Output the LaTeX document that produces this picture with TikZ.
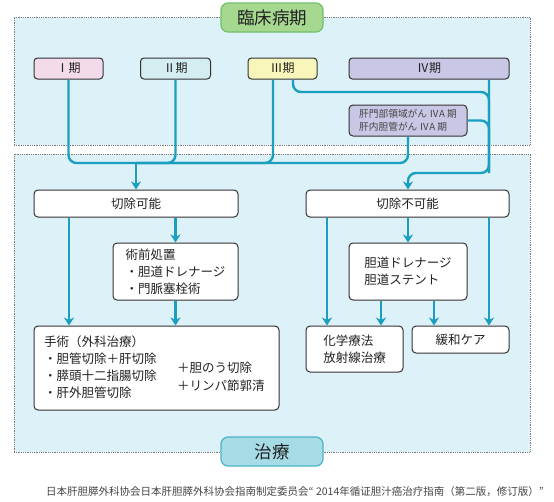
\documentclass[tikz,border=0pt]{standalone}
\usepackage{fontspec}
\setmainfont{Noto Sans CJK JP}
\usetikzlibrary{arrows.meta}
\definecolor{conn}{HTML}{1B9FC0}
\definecolor{panelfill}{HTML}{DDF1F8}
\definecolor{panelline}{HTML}{7A7A7A}
\definecolor{greenfill}{HTML}{A6D98F}
\definecolor{greenline}{HTML}{6FBE6A}
\definecolor{tealfill}{HTML}{A5DCE6}
\definecolor{tealline}{HTML}{4DB3C6}
\definecolor{pinkfill}{HTML}{F4DBE9}
\definecolor{cyanfill}{HTML}{D4EDF1}
\definecolor{yellowfill}{HTML}{F8F6BB}
\definecolor{lavfill}{HTML}{C9C7E6}
\definecolor{boxline}{HTML}{333333}
\definecolor{txt}{HTML}{222222}
\definecolor{foot}{HTML}{444444}
\tikzset{
  panel/.style={draw=panelline, densely dotted, line width=0.8pt, fill=panelfill, inner sep=0pt},
  headbox/.style={rounded corners=7pt, line width=1.2pt, inner sep=0pt,
    minimum width=102pt, minimum height=29pt, font=\fontsize{17.5}{20}\selectfont, text=txt},
  stagebox/.style={draw=boxline, line width=1pt, rounded corners=3.5pt, inner sep=0pt,
    minimum height=21pt, font=\fontsize{12}{14}\selectfont, text=txt},
  wbox/.style={draw=boxline, line width=1pt, rounded corners=4pt, fill=white, inner sep=0pt,
    font=\fontsize{12.5}{17}\selectfont, text=txt, align=left},
  plain/.style={inner sep=0pt, font=\fontsize{12.5}{17}\selectfont, text=txt, align=left},
  conn/.style={draw=conn, line width=2.4pt, rounded corners=8pt},
  arr/.style={draw=conn, line width=2.2pt, -{Stealth[width=10pt,length=8pt,inset=2.5pt]}},
}
\begin{document}
\begin{tikzpicture}[x=1pt,y=-1pt]
\useasboundingbox (0,0) rectangle (554,501);
% panels
\node (toppanel) [panel, minimum width=516pt, minimum height=128pt] at (272,81) {};
\node (botpanel) [panel, minimum width=516pt, minimum height=298pt] at (272,303) {};
\node (head1) [headbox, draw=greenline, fill=greenfill] at (272,17.5) {臨床病期};
\node (head2) [headbox, draw=tealline, fill=tealfill] at (272,451.5) {治療};
% stage boxes
\node (s1) [stagebox, fill=pinkfill, minimum width=69pt] at (68.5,68.5) {Ⅰ期};
\node (s2) [stagebox, fill=cyanfill, minimum width=70pt] at (175.5,68.5) {Ⅱ期};
\node (s3) [stagebox, fill=yellowfill, minimum width=69pt] at (282.5,68.5) {Ⅲ期};
\node (s4) [stagebox, fill=lavfill, minimum width=160pt] at (429,68.5) {Ⅳ期};
\node (sub) [wbox, fill=lavfill, minimum width=118pt, minimum height=31pt,
  font=\fontsize{9.7}{12.4}\selectfont, text=foot] at (408,120.5)
  {肝門部領域がん ⅣA 期\\肝内胆管がん ⅣA 期};
% treatment boxes
\node (res) [wbox, minimum width=204pt, minimum height=27pt] at (136,203.5) {切除可能};
\node (unres) [wbox, minimum width=203pt, minimum height=27pt] at (407.5,203.5) {切除不可能};
\node (prep) [wbox, minimum width=125pt, minimum height=57pt] at (175.5,271.5)
  {術前処置\\・胆道ドレナージ\\・門脈塞栓術};
\node (drain) [wbox, minimum width=118pt, minimum height=57pt] at (408,271.5)
  {胆道ドレナージ\\胆道ステント};
\node (surg) [wbox, minimum width=245pt, minimum height=84pt] at (156.5,368) {};
\node (surgL) [plain, anchor=west] at (44,367.5)
  {手術（外科治療）\\・胆管切除＋肝切除\\・膵頭十二指腸切除\\・肝外胆管切除};
\node (surgR) [plain, anchor=west, font=\fontsize{12.5}{18}\selectfont] at (177,377)
  {＋胆のう切除\\＋リンパ節郭清};
\node (chem) [wbox, minimum width=97pt, minimum height=46pt] at (354.5,349) {化学療法\\放射線治療};
\node (pall) [wbox, minimum width=97pt, minimum height=27pt] at (460.5,339.5) {緩和ケア};
% footer
\node (footer) [inner sep=0pt, anchor=west, font=\fontsize{10.5}{12}\selectfont, text=foot] at (46,492)
  {日本肝胆膵外科协会日本肝胆膵外科协会指南制定委员会“ 2014年循证胆汁癌治疗指南（第二版，修订版）”};
% junctions
\coordinate (j1) at (136,163);
\coordinate (v4) at (489,173);
\coordinate (v4top) at (489,92);
% connectors into resectable
\draw[conn] (s1.south) |- (j1);
\draw[conn] (s2.south) |- (j1);
\draw[conn] ([xshift=-9.5pt]s3.south) |- (j1);
\draw[conn] (sub.south) |- (j1);
\draw[arr] (j1) -- (res.north);
% connectors into unresectable
\draw[conn] ([xshift=10.5pt]s3.south) |- (v4top) -- (v4);
\draw[conn] (sub.east) -| (v4);
\draw[conn, -{Stealth[width=10pt,length=8pt,inset=2.5pt]}] ([xshift=60pt]s4.south) |- (drain.north |- v4) -- (unres.north -| drain.north);
% from resectable
\draw[arr] ([xshift=-67pt]res.south) -- ([xshift=-67pt]res.south |- surg.north);
\draw[arr] (res.south -| prep.north) -- (prep.north);
\draw[arr] (prep.south) -- (prep.south |- surg.north);
% from unresectable
\draw[arr] ([xshift=-80.5pt]unres.south) -- ([xshift=-80.5pt]unres.south |- chem.north);
\draw[arr] (unres.south -| drain.north) -- (drain.north);
\draw[arr] ([xshift=81.5pt]unres.south) -- ([xshift=81.5pt]unres.south |- pall.north);
\draw[arr] ([xshift=-27pt]drain.south) -- ([xshift=-27pt]drain.south |- chem.north);
\draw[arr] ([xshift=26pt]drain.south) -- ([xshift=26pt]drain.south |- pall.north);
\end{tikzpicture}
\end{document}
